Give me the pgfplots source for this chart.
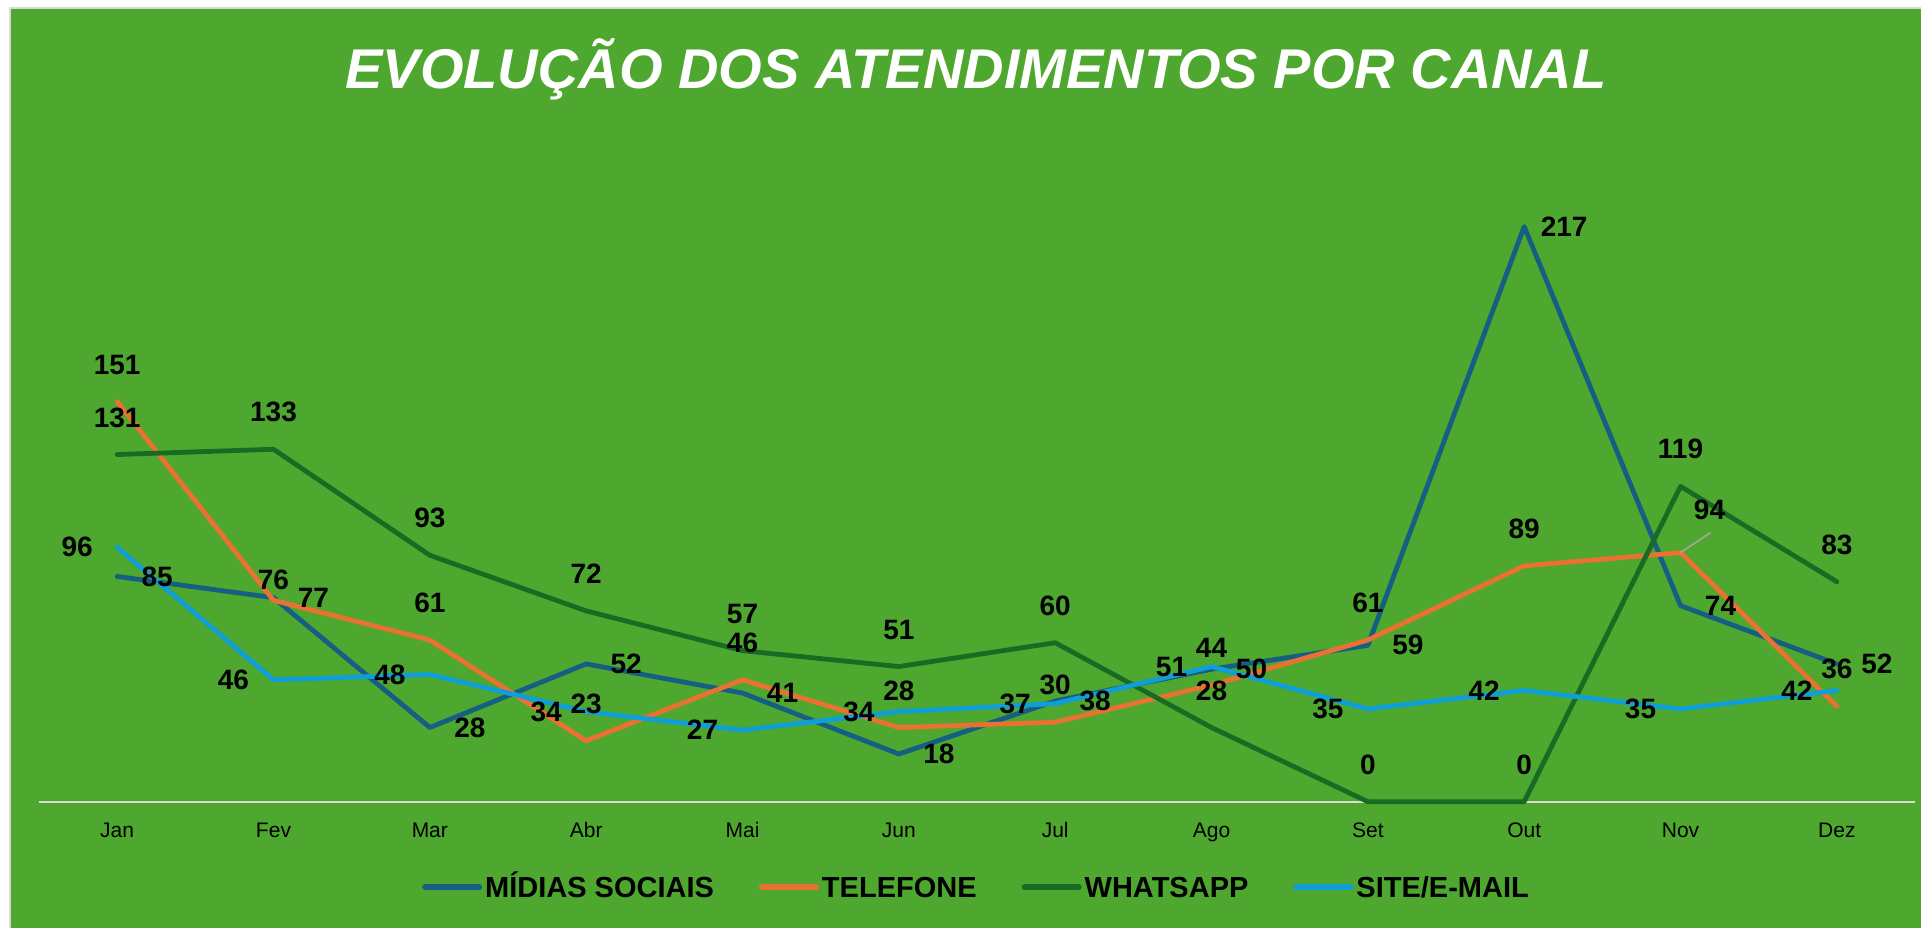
\documentclass[border=0pt]{standalone}
\usepackage{fontspec}
\setmainfont{Liberation Sans}
\usepackage{pgfplots}
\pgfplotsset{compat=1.18}
\usepackage{pgfplotstable}
\definecolor{bg}{HTML}{4EA72E}
\definecolor{c1}{HTML}{156082}
\definecolor{c2}{HTML}{E97132}
\definecolor{c3}{HTML}{196B24}
\definecolor{c4}{HTML}{0F9ED5}
\definecolor{axl}{HTML}{D9D9D9}

\pgfplotstableread{
x midias telefone whatsapp site tdx tdy
0 85 151 131 96 0 18.5
1 77 76 133 46 0 10
2 28 61 93 48 0 18.5
3 52 23 72 34 0 18.5
4 41 46 57 27 0 18.5
5 18 28 51 34 0 18.5
6 38 30 60 37 0 18.5
7 50 44 28 51 0 18.5
8 59 61 0 35 0 18.5
9 217 89 0 42 0 18.5
10 74 94 119 35 14.5 21.5
11 52 36 83 42 0 18.5
}\data

\begin{document}
\begin{tikzpicture}
\fill[white] (0,0) rectangle (960.5pt,464pt);
\fill[bg] (5pt,0) rectangle (960.5pt,460pt);
\draw[black!15, line width=0.75pt] (5pt,0) -- (5pt,460pt) -- (960.5pt,460pt);
\node[anchor=base, font=\fontsize{28}{30}\selectfont\bfseries\itshape, text=white, inner sep=0pt] at (488pt,419.85pt) {EVOLUÇÃO DOS ATENDIMENTOS POR CANAL};
\begin{axis}[
  at={(19.5pt,63.15pt)}, anchor=south west,
  width=938pt, height=331.25pt, scale only axis,
  xmin=-0.5, xmax=11.5, ymin=0, ymax=250,
  axis x line=bottom, axis y line=none,
  x axis line style={draw=axl, line width=1pt, -},
  xtick={0,...,11},
  xticklabels={Jan,Fev,Mar,Abr,Mai,Jun,Jul,Ago,Set,Out,Nov,Dez},
  major tick length=0pt,
  xticklabel style={font=\fontsize{10.5}{12}\selectfont, text=black, anchor=base, yshift=-17.8pt},
  clip=false,
  legend columns=4,
  legend style={at={(0.5,0)}, anchor=center, yshift=-42.8pt, draw=none, fill=none,
    font=\fontsize{14.5}{16}\selectfont\bfseries,
    /tikz/every even column/.append style={column sep=21pt},
    nodes={inner sep=1.5pt, text height=10.5pt, text depth=0pt}},
  legend image code/.code={\draw[#1, line width=3pt, line cap=round] (0pt,0pt) -- (27pt,0pt);},
  every axis plot/.append style={line width=2.4pt, line join=round, line cap=round, mark=none},
  nodes near coords={\pgfmathprintnumber[assume math mode=true]{\pgfplotspointmeta}},
  every node near coord/.append style={font=\fontsize{14}{16}\selectfont\bfseries, text=black, anchor=center},
]
\addplot[c1, nodes near coords style={xshift=20pt}] table[x=x,y=midias]{\data};
\addplot[c2, visualization depends on={\thisrow{tdx}\as\tdx}, visualization depends on={\thisrow{tdy}\as\tdy},
  nodes near coords style={xshift=\tdx pt, yshift=\tdy pt}] table[x=x,y=telefone]{\data};
\addplot[c3, nodes near coords style={yshift=18.5pt}] table[x=x,y=whatsapp]{\data};
\addplot[c4, nodes near coords style={xshift=-20pt}] table[x=x,y=site]{\data};
\draw[black!35, line width=0.75pt] (axis cs:10,94) -- ++(15pt,10pt);
\legend{MÍDIAS SOCIAIS, TELEFONE, WHATSAPP, SITE/E-MAIL}
\end{axis}
\pgfresetboundingbox
\path[use as bounding box] (0,0) rectangle (960.5pt,464pt);
\end{tikzpicture}
\end{document}
